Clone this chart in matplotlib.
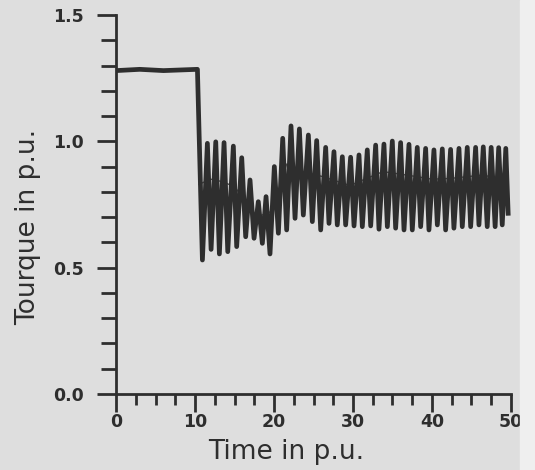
import numpy as np
import matplotlib.pyplot as plt
from matplotlib.patches import Rectangle
from matplotlib.ticker import MultipleLocator

# Pre-disturbance torque level
flat_t = [0.0, 3.0, 6.0, 10.3]
flat_v = [1.28, 1.285, 1.28, 1.285]

# Oscillation maxima
peak_t = [11.56, 12.62, 13.67, 14.85, 15.91, 16.96, 18.01, 18.99, 20.04, 21.10,
          22.15, 23.21, 24.35, 25.40, 26.54, 27.59, 28.65, 29.70, 30.76, 31.81,
          32.87, 33.92, 34.98, 36.03, 37.09, 38.14, 39.20, 40.25, 41.31, 42.36,
          43.42, 44.47, 45.53, 46.50, 47.50, 48.45, 49.35]
peak_v = [0.992, 0.998, 0.995, 0.981, 0.935, 0.847, 0.761, 0.781, 0.900, 1.012,
          1.061, 1.049, 1.025, 1.003, 0.976, 0.959, 0.939, 0.937, 0.946, 0.966,
          0.985, 0.989, 1.001, 0.995, 0.988, 0.976, 0.972, 0.966, 0.970, 0.968,
          0.972, 0.976, 0.976, 0.978, 0.976, 0.975, 0.972]

# Oscillation minima
trough_t = [10.93, 12.03, 13.08, 14.14, 15.27, 16.41, 17.47, 18.52, 19.49, 20.55,
            21.60, 22.66, 23.71, 24.85, 25.91, 26.96, 28.01, 29.07, 30.13, 31.18,
            32.24, 33.29, 34.35, 35.40, 36.46, 37.51, 38.57, 39.62, 40.68, 41.73,
            42.78, 43.84, 44.90, 45.95, 47.00, 48.00, 48.90, 49.65]
trough_v = [0.530, 0.572, 0.554, 0.563, 0.583, 0.622, 0.616, 0.596, 0.554, 0.636,
            0.649, 0.695, 0.708, 0.682, 0.649, 0.675, 0.669, 0.669, 0.665, 0.662,
            0.665, 0.652, 0.662, 0.656, 0.649, 0.649, 0.662, 0.649, 0.669, 0.649,
            0.656, 0.662, 0.662, 0.669, 0.662, 0.662, 0.669, 0.715]

# Average torque running through the oscillation
mean_t = [10.5, 12.0, 13.5, 15.0, 16.5, 17.8, 19.5, 20.5, 21.6, 23.5, 26.2,
          29.6, 31.5, 33.8, 36.0, 38.1, 40.0, 42.3, 44.5, 46.5, 48.5, 49.6]
mean_v = [0.83, 0.85, 0.84, 0.82, 0.76, 0.70, 0.72, 0.80, 0.91, 0.88, 0.86,
          0.825, 0.85, 0.88, 0.87, 0.86, 0.85, 0.853, 0.86, 0.867, 0.85, 0.81]

osc = sorted(zip(peak_t + trough_t, peak_v + trough_v))
t = np.array(flat_t + [p[0] for p in osc])
v = np.array(flat_v + [p[1] for p in osc])

ink = '#2e2e2e'
bg = '#dedede'

fig = plt.figure(figsize=(5.35, 4.7), dpi=100, facecolor=bg)
fig.patches.append(Rectangle((0.972, 0), 0.028, 1, transform=fig.transFigure,
                             color='#efefef', zorder=0))
ax = fig.add_axes([0.217, 0.162, 0.738, 0.806])
ax.set_facecolor('none')

ax.plot(mean_t, mean_v, color='#4a4a4a', lw=1.0)
ax.plot(t, v, color=ink, lw=3.4, solid_joinstyle='round')

ax.set_xlim(0, 50)
ax.set_ylim(0, 1.5)
for s in ['top', 'right']:
    ax.spines[s].set_visible(False)
for s in ['left', 'bottom']:
    ax.spines[s].set_color(ink)
    ax.spines[s].set_linewidth(2)

ax.xaxis.set_minor_locator(MultipleLocator(2.5))
ax.yaxis.set_minor_locator(MultipleLocator(0.1))
ax.set_yticks([0, 0.5, 1.0, 1.5])
ax.set_yticklabels(['0.0', '0.5', '1.0', '1.5'], fontsize=12.5, fontweight='bold',
                   color=ink)
ax.set_xticks([0, 10, 20, 30, 40, 50])
ax.set_xticklabels(['0', '10', '20', '30', '40', '50'], fontsize=12.5,
                   fontweight='bold', color=ink)
ax.tick_params(axis='x', which='major', direction='out', length=13, width=2,
               color=ink, pad=1)
ax.tick_params(axis='x', which='minor', direction='out', length=8, width=2,
               color=ink)
ax.tick_params(axis='y', which='major', direction='out', length=14, width=2,
               color=ink, pad=9)
ax.tick_params(axis='y', which='minor', direction='out', length=11, width=2,
               color=ink)

ax.set_xlabel('Time in p.u.', fontsize=19, color=ink)
ax.set_ylabel('Tourque in p.u.', fontsize=19, color=ink)
ax.xaxis.set_label_coords(0.43, -0.12)
ax.yaxis.set_label_coords(-0.19, 0.44)

fig.savefig('out.png', dpi=100, facecolor=bg)
